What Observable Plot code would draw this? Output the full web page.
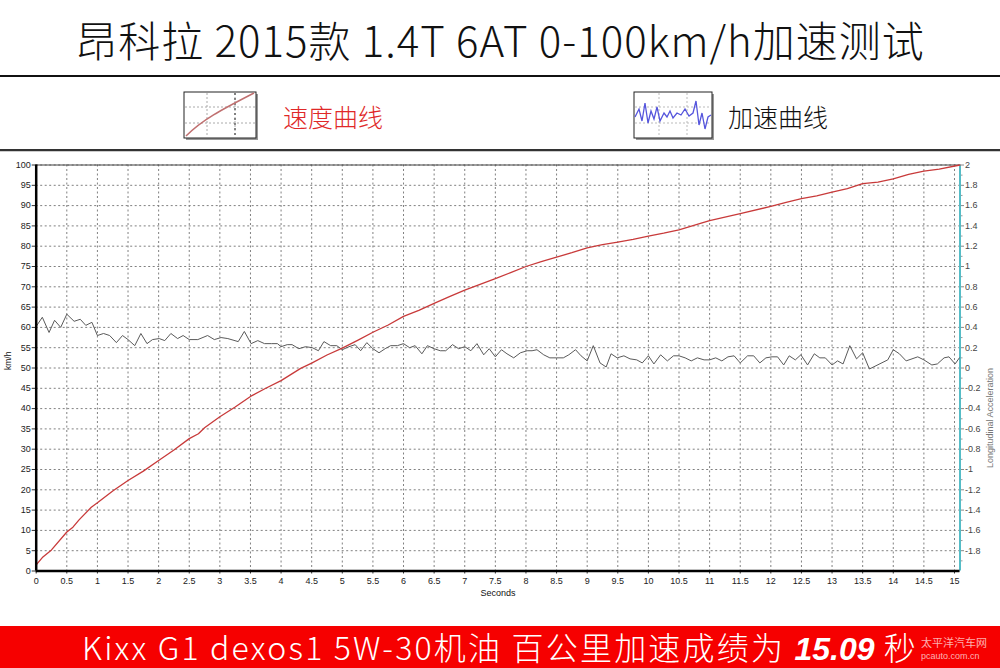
<!DOCTYPE html>
<html>
<head>
<meta charset="utf-8">
<script src="https://cdn.jsdelivr.net/npm/d3@7"></script>
<script src="https://cdn.jsdelivr.net/npm/@observablehq/plot@0.6"></script>
<style>
  html, body { margin: 0; padding: 0; background: #fff; }
  body { width: 1000px; height: 668px; position: relative; overflow: hidden; font-family: "Noto Sans CJK SC", "Noto Sans", sans-serif; }
  #title { position: absolute; left: 0; top: 0; width: 1000px; height: 78px; display: flex; align-items: center; justify-content: center; font-size: 42px; letter-spacing: 1px; font-weight: 300; color: #111; white-space: nowrap; line-height: 1.1; }
  .rule { position: absolute; left: 0; width: 1000px; }
  .legtext { position: absolute; font-size: 25px; font-weight: 300; white-space: nowrap; line-height: 1; }
  #chart { position: absolute; left: 0; top: 152px; }
  #footer { position: absolute; left: 0; top: 626px; width: 1000px; height: 42px; background: #f60000; color: #fff; display: flex; align-items: center; justify-content: center; font-size: 32px; letter-spacing: 2.2px; font-weight: 300; white-space: nowrap; line-height: 1; overflow: visible; }
  #footer span { line-height: 1; display: block; }
  #footer b { font-weight: 700; font-style: italic; font-family: "Liberation Sans", "Noto Sans", sans-serif; letter-spacing: 0; }
  #wm { position: absolute; left: 921px; top: 636px; color: rgba(255,255,255,0.7); font-size: 11px; line-height: 1.1; }
</style>
</head>
<body>
<div id="title">昂科拉 2015款 1.4T 6AT 0-100km/h加速测试</div>
<div class="rule" style="top:75px;height:2px;background:#111"></div>

<svg style="position:absolute;left:183px;top:91px" width="76" height="50">
  <rect x="3" y="3" width="72" height="46" fill="#999"/>
  <rect x="1" y="1" width="72" height="46" fill="#fff" stroke="#222" stroke-width="1"/>
  <g stroke="#aaa" stroke-dasharray="2,2" stroke-width="1">
    <line x1="24" y1="2" x2="24" y2="46"/><line x1="52" y1="2" x2="52" y2="46"/>
    <line x1="2" y1="16" x2="72" y2="16"/><line x1="2" y1="32" x2="72" y2="32"/>
  </g>
  <line x1="52" y1="2" x2="52" y2="46" stroke="#666" stroke-dasharray="2,3" stroke-width="1.5"/>
  <path d="M3,45 C20,28 40,18 71,2" fill="none" stroke="#c07070" stroke-width="1.5"/>
</svg>
<div class="legtext" style="left:283px;top:104px;color:#e02828">速度曲线</div>

<svg style="position:absolute;left:633px;top:91px" width="82" height="50">
  <rect x="3" y="3" width="78" height="46" fill="#999"/>
  <rect x="1" y="1" width="78" height="46" fill="#fff" stroke="#222" stroke-width="1"/>
  <g stroke="#bbb" stroke-dasharray="2,2" stroke-width="1">
    <line x1="26" y1="2" x2="26" y2="46"/><line x1="54" y1="2" x2="54" y2="46"/>
    <line x1="2" y1="16" x2="78" y2="16"/><line x1="2" y1="32" x2="78" y2="32"/>
  </g>
  <polyline points="2,26 6,18 9,30 12,12 15,32 18,20 21,28 24,16 27,30 31,22 34,26 37,20 40,27 44,22 48,24 52,18 56,25 60,22 63,10 66,34 69,22 72,38 75,26 78,24" fill="none" stroke="#5555dd" stroke-width="1.3"/>
</svg>
<div class="legtext" style="left:728px;top:104px;color:#111">加速曲线</div>

<div class="rule" style="top:149px;height:2px;background:#333"></div>
<div class="rule" style="top:151px;height:1px;background:#ccc"></div>

<div id="chart"></div>

<div id="footer"><span>Kixx G1 dexos1 5W-30机油 百公里加速成绩为 <b>15.09</b> 秒</span></div>
<div id="wm">太平洋汽车网<br><span style="font-size:9px;font-family:'Liberation Sans'">pcauto.com.cn</span></div>

<script>
// ---- Data ----
const speedT = [0,0.1,0.25,0.5,0.6,0.7,0.9,1,1.25,1.5,1.75,2,2.25,2.5,2.65,2.75,3,3.25,3.5,3.75,4,4.32,4.5,4.75,5,5.25,5.5,5.75,6,6.25,6.5,6.75,7,7.25,7.5,7.75,8,8.25,8.5,8.75,9,9.25,9.5,9.75,10,10.25,10.5,10.85,11,11.5,12,12.25,12.5,12.75,13,13.25,13.5,13.75,14,14.25,14.5,14.75,15.09];
const speedKmh = [1.5,3.3,5.2,9.6,10.8,12.6,15.7,16.8,19.7,22.3,24.6,27.2,29.8,32.6,33.8,35.3,38.0,40.4,43.0,45.0,46.9,49.9,51.2,53.2,54.9,56.8,58.8,60.6,62.7,64.2,65.9,67.6,69.2,70.6,72.0,73.5,75.0,76.2,77.3,78.4,79.6,80.4,81.0,81.7,82.5,83.2,84.0,85.6,86.3,88.0,89.8,90.8,91.7,92.4,93.3,94.2,95.4,95.8,96.6,97.7,98.5,99.0,100];

const accT = [0,0.1,0.21,0.3,0.4,0.5,0.62,0.72,0.81,0.91,1.0,1.1,1.2,1.31,1.41,1.5,1.61,1.71,1.81,1.9,2.01,2.1,2.2,2.31,2.4,2.5,2.64,2.8,2.91,3.02,3.13,3.3,3.4,3.51,3.62,3.73,3.84,3.94,4.0,4.1,4.18,4.29,4.4,4.51,4.61,4.7,4.81,4.91,5.0,5.11,5.21,5.3,5.4,5.5,5.6,5.7,5.79,5.9,6.0,6.1,6.19,6.3,6.39,6.5,6.6,6.69,6.8,6.9,7.0,7.1,7.2,7.31,7.4,7.5,7.6,7.69,7.8,7.91,8.02,8.1,8.18,8.29,8.39,8.5,8.61,8.7,8.81,8.9,9.0,9.1,9.21,9.31,9.39,9.49,9.6,9.7,9.81,9.9,10.0,10.09,10.2,10.31,10.41,10.5,10.6,10.7,10.8,10.91,11.0,11.1,11.2,11.3,11.4,11.5,11.62,11.72,11.82,11.92,12.02,12.11,12.21,12.3,12.4,12.49,12.6,12.71,12.8,12.89,13.0,13.09,13.18,13.29,13.4,13.5,13.61,13.91,14.0,14.1,14.21,14.4,14.5,14.63,14.72,14.83,14.91,15.01,15.08];
const accG = [0.41,0.50,0.35,0.47,0.40,0.53,0.46,0.48,0.42,0.45,0.32,0.34,0.32,0.25,0.32,0.28,0.22,0.34,0.24,0.28,0.29,0.27,0.34,0.29,0.32,0.28,0.28,0.32,0.28,0.30,0.29,0.26,0.36,0.24,0.27,0.24,0.24,0.24,0.21,0.23,0.23,0.19,0.21,0.20,0.17,0.26,0.22,0.22,0.18,0.21,0.23,0.17,0.25,0.19,0.15,0.19,0.22,0.22,0.24,0.20,0.22,0.14,0.22,0.19,0.17,0.17,0.23,0.19,0.21,0.17,0.24,0.13,0.19,0.11,0.18,0.14,0.10,0.15,0.17,0.17,0.18,0.13,0.10,0.10,0.10,0.13,0.18,0.12,0.07,0.22,0.05,0.01,0.14,0.10,0.12,0.09,0.08,0.05,0.12,0.04,0.13,0.07,0.12,0.12,0.10,0.07,0.10,0.08,0.08,0.10,0.07,0.11,0.12,0.05,0.12,0.12,0.05,0.10,0.11,0.11,0.03,0.12,0.08,0.13,0.03,0.14,0.10,0.10,0.03,0.07,0.04,0.22,0.09,0.15,-0.01,0.08,0.18,0.14,0.07,0.11,0.08,0.03,0.04,0.10,0.11,0.04,0.10];

const xTicks = [0,0.5,1,1.5,2,2.5,3,3.5,4,4.5,5,5.5,6,6.5,7,7.5,8,8.5,9,9.5,10,10.5,11,11.5,12,12.5,13,13.5,14,14.5,15];
const yTicks = [0,5,10,15,20,25,30,35,40,45,50,55,60,65,70,75,80,85,90,95,100];
const accTicks = [-1.8,-1.6,-1.4,-1.2,-1,-0.8,-0.6,-0.4,-0.2,0,0.2,0.4,0.6,0.8,1,1.2,1.4,1.6,1.8,2];
const accMinor = [-1.9,-1.7,-1.5,-1.3,-1.1,-0.9,-0.7,-0.5,-0.3,-0.1,0.1,0.3,0.5,0.7,0.9,1.1,1.3,1.5,1.7,1.9];
const xMax = 15.09;

// acceleration (g) shares the km/h scale: -2..2 ↔ 0..100
const accToKmh = a => 50 + 25 * a;
const kmhToAcc = v => (v - 50) / 25;

const speed = speedT.map((t, i) => ({t, v: speedKmh[i]}));
const acc = accT.map((t, i) => ({t, a: accG[i]}));

const fmtAcc = v => String(+kmhToAcc(v).toFixed(1));

const chart = Plot.plot({
  width: 1000,
  height: 474,
  marginTop: 12.5,
  marginBottom: 55.5,
  marginLeft: 35.7,
  marginRight: 40.5,
  x: {domain: [0, xMax], axis: null},
  y: {domain: [0, 100], axis: null},
  style: {fontFamily: "'Liberation Sans', Arial, sans-serif", fontSize: "9px", color: "#222", background: "transparent", overflow: "visible"},
  marks: [
    Plot.gridX(xTicks, {stroke: "#808080", strokeOpacity: 1, strokeDasharray: "2,2.5"}),
    Plot.gridY(yTicks, {stroke: "#808080", strokeOpacity: 1, strokeDasharray: "2,2.5"}),
    Plot.axisY(yTicks, {anchor: "left", tickSize: 4, tickPadding: 1.5, label: null, stroke: "#333", fill: "#222"}),
    Plot.axisX(xTicks, {anchor: "bottom", tickSize: 3, tickPadding: 4, label: null, stroke: "#333", fill: "#222", tickFormat: d => String(d)}),
    Plot.axisY(accTicks.map(accToKmh), {anchor: "right", tickSize: 3.5, tickPadding: 1.5, label: null, stroke: "#888", fill: "#444", tickFormat: fmtAcc}),
    Plot.axisY(accMinor.map(accToKmh), {anchor: "right", tickSize: 2, label: null, stroke: "#999", tickFormat: () => ""}),
    Plot.ruleY([100], {stroke: "#444", strokeWidth: 1}),
    Plot.ruleX([xMax], {stroke: "#55bcc6", strokeWidth: 2}),
    Plot.line(acc, {x: "t", y: d => accToKmh(d.a), stroke: "#5a5a5a", strokeWidth: 1}),
    Plot.line(speed, {x: "t", y: "v", stroke: "#c83a3a", strokeWidth: 1.3}),
    Plot.ruleX([0], {stroke: "#000", strokeWidth: 2.5}),
    Plot.ruleY([0], {stroke: "#000", strokeWidth: 2.5}),
    Plot.text(["km/h"], {frameAnchor: "left", dx: -27.5, dy: 2, rotate: -90, fill: "#111", fontSize: 8.5}),
    Plot.text(["Seconds"], {frameAnchor: "bottom", dy: 24.5, fill: "#111", fontSize: 9}),
    Plot.text(["Longitudinal Acceleration"], {frameAnchor: "right", dx: 30.5, rotate: -90, fill: "#777", fontSize: 9})
  ]
});
document.getElementById("chart").appendChild(chart);
</script>
</body>
</html>
